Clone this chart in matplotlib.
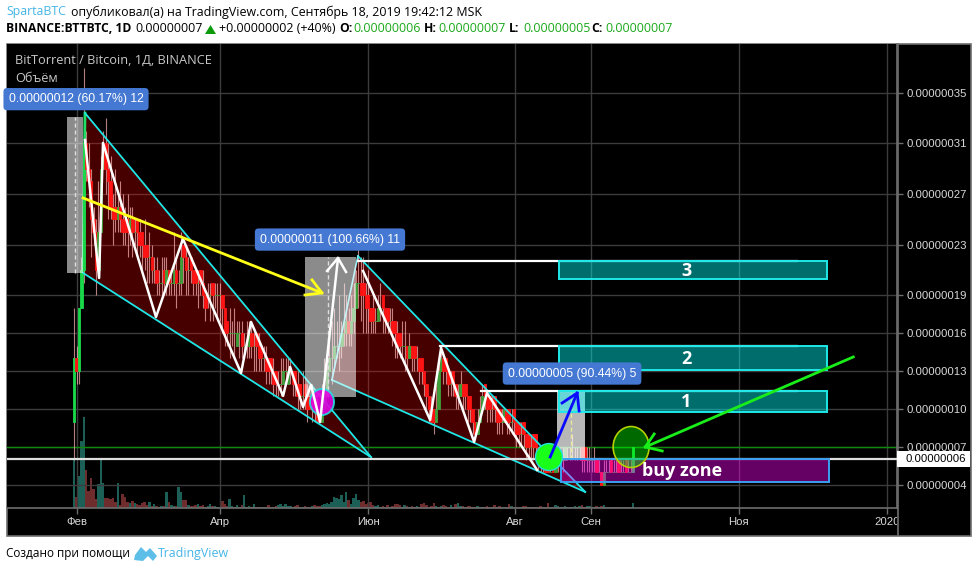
import numpy as np
import matplotlib
matplotlib.use("Agg")
import matplotlib.pyplot as plt
from matplotlib.patches import Rectangle, Ellipse, Polygon

# prices are in units of 0.00000001, x is days from 1 Feb 2019
opens = [9,14,13,18,21,31,29,28,25,24, 21,24,29,31,29,28,26,26,25,26,
         25,25,25,24,25,24,25,24,24,23, 23,22,22,21,21,20,20,21,20,21,
         20,20,21,20,20,23,22,21,22,21, 21,20,21,20,19,19,19,20,19,19,
         19,19,18,17,16,16,16,15,16,16, 15,15,15,16,15,16,15,15,14,14,
         14,14,13,13,12,12,12,13,12,13, 13,13,12,12,11,12,11,11,10,11,
         10,10,9,10,11,13,14,14,15,15, 15,16,16,17,16,17,18,20,20,20,
         19,19,18,18,17,17,18,19,18,18, 17,17,17,16,16,15,15,15,14,15,
         15,14,14,14,13,12,11,10,10,9, 10,13,14,14,13,12,13,12,11,11,
         12,12,11,11,10,9,8,9,10,12, 11,11,10,11,10,10,9,9,10,10,
         9,10,9,9,8,9,8,8,7,8, 8,7,7,6,6,6,5,6,5,6,
         6,6,6,7,7,7,7,7,7,7, 7,6,6,6,6,6,5,5,4,5,
         5,6,5,5,6,5,5,6,5,5, 5]
closes = [14,13,18,21,31,29,28,25,24,21, 24,29,31,29,28,26,25,25,26,25,
          24,24,24,25,24,24,24,23,23,22, 22,22,21,21,20,20,20,20,21,20,
          20,21,20,20,22,22,21,21,21,20, 20,20,20,19,18,19,19,19,19,19,
          19,18,16,16,16,16,16,16,16,15, 15,15,16,15,15,15,14,14,14,13,
          13,13,12,12,12,12,13,13,13,13, 12,12,11,11,11,11,10,10,10,10,
          9,9,10,11,13,14,14,15,15,15, 16,16,17,16,17,18,20,20,19,19,
          18,18,17,17,17,18,18,18,17,17, 17,16,16,15,15,15,15,14,15,14,
          14,14,13,13,12,11,10,9,9,10, 13,14,13,13,12,12,12,11,11,12,
          11,11,10,10,9,8,9,10,11,11, 10,10,10,10,9,9,9,10,9,9,
          9,9,8,8,8,8,7,7,7,7, 7,6,6,6,5,5,5,5,6,6,
          6,6,7,7,7,7,7,7,7,6, 6,6,6,6,6,5,5,4,5,5,
          5,5,5,5,5,5,5,5,5,5, 7]
highs = [18,15,18,22,37,32,31,29,26,25, 28,30,32,33,31,30,27,29,27,28,
         27,26,27,26,26,25,25,25,24,25, 23,24,23,22,22,21,22,22,22,21,
         21,24,22,21,24,23,23,22,22,21, 21,21,21,21,19,20,20,20,20,20,
         20,19,18,17,18,17,18,17,17,17, 16,17,17,17,16,16,16,15,15,15,
         14,14,14,13,13,14,14,14,14,14, 13,13,13,12,13,12,12,11,12,11,
         11,10,12,14,15,16,17,18,17,19, 17,20,19,18,19,20,21,23,22,22,
         20,21,18,19,18,19,20,19,18,18, 18,18,17,17,16,17,17,15,16,15,
         15,15,14,14,13,12,11,11,10,12, 14,15,14,14,13,13,13,12,12,13,
         12,12,11,11,10,9,10,11,12,12, 11,11,11,11,10,10,10,10,10,10,
         10,10,9,9,9,9,8,8,8,8, 8,7,7,7,6,6,6,6,7,7,
         7,7,7,7,7,8,7,7,7,7, 7,7,7,6,7,6,6,5,6,6,
         6,6,6,6,6,6,6,6,6,6, 7]
lows = [6,12,12,18,20,28,26,22,23,19, 21,24,29,27,25,25,23,24,24,24,
        23,23,22,23,22,23,22,22,21,21, 20,20,20,20,19,19,19,19,19,19,
        19,19,18,19,19,20,19,19,20,19, 19,18,19,18,17,18,17,17,18,17,
        17,16,15,15,14,15,14,15,14,14, 14,14,14,14,13,13,13,13,13,12,
        12,12,11,11,11,11,12,12,12,12, 11,11,10,10,10,10,9,10,9,9,
        9,9,9,10,11,13,12,13,14,13, 14,15,15,15,15,16,18,18,17,16,
        16,16,16,16,16,17,17,16,16,16, 16,15,14,14,14,14,13,13,14,13,
        13,13,12,12,11,10,9,9,8,9, 10,13,12,12,11,11,11,10,10,11,
        10,10,9,9,8,8,8,9,10,10, 9,9,9,9,8,8,8,9,8,8,
        8,8,7,7,7,7,6,6,6,6, 6,5,5,5,5,5,5,5,5,5,
        5,5,6,6,6,6,6,6,6,5, 5,5,5,5,5,5,5,4,4,5,
        5,5,5,5,5,5,5,5,5,5, 5]
volumes = [48,11,32,67,91,38,17,30,19,9, 24,48,25,10,10,9,10,6,25,3,
           14,11,6,5,7,5,4,3,5,6, 3,6,2,4,2,1,2,2,16,6,
           3,2,2,21,16,8,8,3,2,2, 3,4,2,3,1,2,4,2,2,1,
           1,7,4,2,9,2,1,3,1,3, 13,1,2,1,4,1,1,1,1,1,
           3,1,1,2,3,4,2,4,2,2, 1,2,3,1,1,2,1,1,2,3,
           2,2,3,4,5,4,6,11,10,9, 13,6,16,8,4,10,14,8,6,7,
           4,5,6,3,2,3,1,2,1,3, 1,2,4,4,3,1,3,2,1,2,
           1,2,1,4,5,3,1,2,5,2, 1,2,3,2,1,3,1,4,5,2,
           2,1,2,2,1,1,2,1,1,1, 2,1,1,3,1,2,1,1,1,4,
           2,1,1,1,1,2,2,1,1,1, 1,1,2,1,1,5,1,1,3,2,
           1,1,2,1,1,1,2,1,2,3, 1,2,2,1,1,2,1,2,3,1,
           1,1,1,1,1,1,1,1,1,1, 5]
first_day = -1

price_ticks = [4, 7, 10, 13, 16, 19, 23, 27, 31, 35]
date_ticks = [0, 59, 120, 180.5, 211.5, 272.5, 333.5]
date_labels = ['Фев', 'Апр', 'Июн', 'Авг', 'Сен', 'Ноя', '2020']

# drawings
channel1 = [(3.5, 33.4), (121.2, 6.2), (2.7, 20.76)]
channel2 = [(115.8, 22.1), (209.3, 3.45), (105.1, 12.3)]
zigzag1_x = [3.5, 9.3, 10.9, 32.7, 43.8, 67.7, 71.8, 85.0, 87.9, 93.2, 96.5, 100.2, 107.6]
zigzag1_y = [31.27, 20.36, 31.04, 17.28, 23.45, 12.85, 16.89, 11.04, 13.33, 10.17, 11.91, 8.98, 21.94]
zigzag2_x = [117.9, 145.5, 150.0, 163.6, 168.9, 189.5]
zigzag2_y = [20.92, 9.14, 14.83, 7.40, 11.27, 5.19]
level_lines = [(115.8, 21.71), (149.6, 14.99), (166.5, 11.43)]
level_end = 296.5
gray_boxes = [(-3.9, 2.7, 20.76, 33.09, 0.55), (94.0, 115.0, 10.96, 22.02, 0.55), (197.7, 209.3, 6.06, 11.43, 0.72)]
target_boxes = [('3', 20.28, 21.71), ('2', 13.09, 14.99), ('1', 9.77, 11.43)]
pills = [(-0.2, 34.5, '0.00000012 (60.17%) 12'), (104.3, 23.4, '0.00000011 (100.66%) 11'), (203.9, 12.81, '0.00000005 (90.44%) 5')]

W, H = 977, 572
SANS = ['Liberation Sans', 'DejaVu Sans']
plt.rcParams['font.family'] = ['Open Sans', 'DejaVu Sans']
fig = plt.figure(figsize=(W / 100, H / 100), dpi=100, facecolor='white')

# black chart frame, header and footer live on a pixel layer
page = fig.add_axes([0, 0, 1, 1], zorder=0)
page.set_xlim(0, W)
page.set_ylim(H, 0)
page.axis('off')
page.add_patch(Rectangle((6.5, 43.5), 964, 492, fc='black', ec='#6e6e6e', lw=1.2))
page.plot([897.5, 897.5], [44, 535], color='#6e6e6e', lw=1.2)

page.text(6, 12, 'SpartaBTC', color='#45b5e6', fontsize=8.9, va='center')
page.text(71, 12, 'опубликовал(а) на TradingView.com, Сентябрь 18, 2019 19:42:12 MSK', color='black', fontsize=8.9, va='center')
page.text(6, 29, 'BINANCE:BTTBTC, 1D', color='black', fontsize=8.7, va='center', fontweight='bold')
page.text(135, 29, '0.00000007', color='black', fontsize=8.9, va='center')
page.add_patch(Polygon([(205, 34), (216, 34), (210.5, 25)], fc='#0a9a0a', ec='none'))
page.text(219, 29, '+0.00000002 (+40%)', color='black', fontsize=8.9, va='center')
for x, lab, val in [(339, 'O:', '0.00000006'), (424, 'H:', '0.00000007'), (509, 'L:', '0.00000005'), (591, 'C:', '0.00000007')]:
    page.text(x, 29, lab, color='black', fontsize=8.7, va='center', fontweight='bold')
    page.text(x + 14, 29, val, color='#1aa81a', fontsize=8.9, va='center')

page.text(6, 553, 'Создано при помощи', color='black', fontsize=8.5, va='center')
page.add_patch(Polygon([(134, 560), (135, 555), (141, 547), (146, 552), (150, 548), (157, 556), (153, 561), (148, 556), (143, 561)],
                       fc='#5dbfe8', ec='none'))
page.text(158, 553, 'TradingView', color='#45b5e6', fontsize=8.9, va='center')

# volume sits under the price axes
ax_vol = fig.add_axes([7 / W, (H - 508) / H, 890 / W, 464 / H], zorder=1)
ax_vol.set_facecolor('black')
ax_vol.set_xlim(-28.6, 337.6)
ax_vol.set_ylim(0, 464)
ax_vol.set_xticks([])
ax_vol.set_yticks([])
for s in ax_vol.spines.values():
    s.set_visible(False)

ax = fig.add_axes([7 / W, (H - 508) / H, 890 / W, 464 / H], zorder=2)
ax.patch.set_alpha(0)
ax.set_xlim(-28.6, 337.6)
ax.set_ylim(2.18, 38.86)

days = np.arange(first_day, first_day + len(closes))
opens = np.array(opens, dtype=float)
closes = np.array(closes, dtype=float)
highs = np.array(highs, dtype=float)
lows = np.array(lows, dtype=float)

vol_colors = ['#6e2c2c' if c < o else '#1b5f57' for o, c in zip(opens, closes)]
ax_vol.bar(days, volumes, width=1.0, color=vol_colors)

ax.set_xticks(date_ticks)
ax.set_xticklabels(date_labels)
ax.set_yticks(price_ticks)
ax.set_yticklabels(['%.8f' % (p / 1e8) for p in price_ticks])
ax.yaxis.tick_right()
ax.grid(True, color='#3c3c3c', lw=1)
ax.set_axisbelow(True)
ax.tick_params(colors='#d8d8d8', length=4, width=1, color='#6e6e6e')
ax.tick_params(axis='y', pad=3)
ax.tick_params(axis='x', pad=2.5)
for s in ax.spines.values():
    s.set_color('#6e6e6e')
    s.set_linewidth(1.2)
ax.spines['top'].set_visible(False)
ax.spines['left'].set_visible(False)
for lab in ax.get_xticklabels() + ax.get_yticklabels():
    lab.set_family(SANS)
    lab.set_fontsize(8.2)

# channels
ax.add_patch(Polygon(channel1, closed=True, fc=(1, 0, 0, 0.28), ec='none', zorder=1.5))
ax.add_patch(Polygon(channel2, closed=True, fc=(1, 0, 0, 0.28), ec='none', zorder=1.5))

# candles
ax.vlines(days, lows, highs, color='#ffb4b4', lw=0.8, alpha=0.7, zorder=3)
body_colors = ['#ff1414' if c < o else '#3fa03a' for o, c in zip(opens, closes)]
body_colors[:5] = ['#19d94a', '#ff1414', '#19d94a', '#19d94a', '#19d94a']
body_colors[-1] = '#19d94a'
ax.bar(days, closes - opens, bottom=opens, width=1.0, color=body_colors, edgecolor=body_colors, linewidth=0.6, zorder=3.2)

# channel edges
for pts in (channel1, channel2):
    xs = [p[0] for p in pts]
    ys = [p[1] for p in pts]
    ax.plot(xs[:2], ys[:2], color='#1fe6e6', lw=1.3, zorder=4)
    ax.plot(xs[1:], ys[1:], color='#1fe6e6', lw=1.3, zorder=4)
ax.plot([channel2[0][0], channel2[2][0]], [channel2[0][1], channel2[2][1]], color='#7de8f0', lw=1.2, zorder=4)
ax.plot([channel1[0][0], channel1[2][0]], [channel1[0][1], channel1[2][1]], color='#22dd66', lw=2, zorder=3.1)

# full width levels
ax.axhline(7.0, color='#0c8a0c', lw=1, zorder=2)
ax.axhline(6.06, color='#dddddd', lw=1.6, zorder=4)

# fib boxes
for x0, x1, y0, y1, a in gray_boxes:
    ax.add_patch(Rectangle((x0, y0), x1 - x0, y1 - y0, fc=(1, 1, 1, a), ec='none', zorder=5))
ax.plot([-0.6, -0.6], [20.76, 33.09], color='#dddddd', lw=1, ls=(0, (3, 2)), zorder=5.1)
ax.plot([103.5, 103.5], [10.96, 22.02], color='#dddddd', lw=1, ls=(0, (3, 2)), zorder=5.1)
ax.plot([203.5, 203.5], [6.06, 11.43], color='#e8e89a', lw=1, ls=(0, (3, 2)), zorder=5.1)

# target boxes
for name, y0, y1 in target_boxes:
    ax.add_patch(Rectangle((198.6, y0), 110.3, y1 - y0, fc=(0, 1, 1, 0.43), ec='#1fe8e8', lw=1.4, zorder=5.5))
    ax.text(251, (y0 + y1) / 2 - 0.05, name, color='white', fontsize=13, fontweight='bold',
            ha='center', va='center', zorder=9)
ax.add_patch(Rectangle((199.4, 4.24), 110.3, 1.82, fc=(1, 0, 1, 0.4), ec='#3aa0f0', lw=1.4, zorder=5.5))
ax.text(249, 5.1, 'buy zone', color='white', fontsize=13, fontweight='bold', ha='center', va='center', zorder=9)

for x0, y in level_lines:
    ax.plot([x0, level_end], [y, y], color='white', lw=1.6, zorder=5.4)

# circles
ax.add_patch(Ellipse((101.0, 10.56), 9.9, 2.06, fc='#e000e0', ec='#22dede', lw=1.4, alpha=0.9, zorder=6))
ax.add_patch(Ellipse((194.4, 6.21), 11.1, 2.13, fc='#1aff1a', ec='#22dede', lw=1, zorder=6))
ax.add_patch(Ellipse((228.2, 7.0), 14.8, 3.24, fc=(0, 1, 0, 0.42), ec='#b5d000', lw=1.2, zorder=6))

# zigzags
ax.plot(zigzag1_x, zigzag1_y, color='white', lw=1.8, zorder=7)
ax.plot([103.1, 107.6, 110.9], [20.92, 21.94, 20.84], color='white', lw=1.8, zorder=7)
ax.plot(zigzag2_x, zigzag2_y, color='white', lw=1.8, zorder=7)

# arrows
ax.plot([2.7, 101.0], [26.69, 19.18], color='#ffff1a', lw=2, zorder=7)
ax.plot([96.9, 101.0, 94.0], [20.21, 19.18, 19.02], color='#ffff1a', lw=2, zorder=7)
ax.plot([194.9, 206.0], [6.21, 11.27], color='#0a0aff', lw=2, zorder=7)
ax.plot([199.8, 206.0, 206.8], [10.48, 11.27, 9.85], color='#0a0aff', lw=2, zorder=7)
ax.plot([319.6, 234.0], [14.12, 7.0], color='#1aee1a', lw=2, zorder=7)
ax.plot([237.7, 234.0, 241.0], [8.03, 7.0, 6.69], color='#1aee1a', lw=2, zorder=7)

# measure labels
for x, y, txt in pills:
    ax.text(x, y, txt, color='white', fontsize=8.8, ha='center', va='center', zorder=10,
            family=SANS, clip_on=False,
            bbox=dict(boxstyle='round,pad=0.42,rounding_size=0.3', fc='#4478d2', ec='none'))

ax.text(8 / 890, 1 - 16 / 464, 'BitTorrent / Bitcoin, 1Д, BINANCE', transform=ax.transAxes, color='#c8c8c8',
        fontsize=9.2, va='center', zorder=10)
ax.text(8 / 890, 1 - 34 / 464, 'Объём', transform=ax.transAxes, color='#c8c8c8', fontsize=9.2, va='center', zorder=10)

# last price tag
ax.add_patch(Rectangle((1, 5.42), 73 / 890, 1.27, transform=ax.get_yaxis_transform(), fc='white', ec='none',
                       clip_on=False, zorder=19))
ax.annotate('0.00000006', xy=(1, 6.06), xycoords=('axes fraction', 'data'), xytext=(5.8, 0),
            textcoords='offset points', color='black', fontsize=8.2, va='center', zorder=20,
            family=SANS, annotation_clip=False)

fig.canvas.draw()
for lab in ax.get_xticklabels():
    if lab.get_text() == '2020':
        lab.set_clip_box(ax.bbox.frozen().expanded(1, 1.2))
        lab.set_clip_on(True)

fig.savefig('out.png', dpi=100, facecolor='white')
